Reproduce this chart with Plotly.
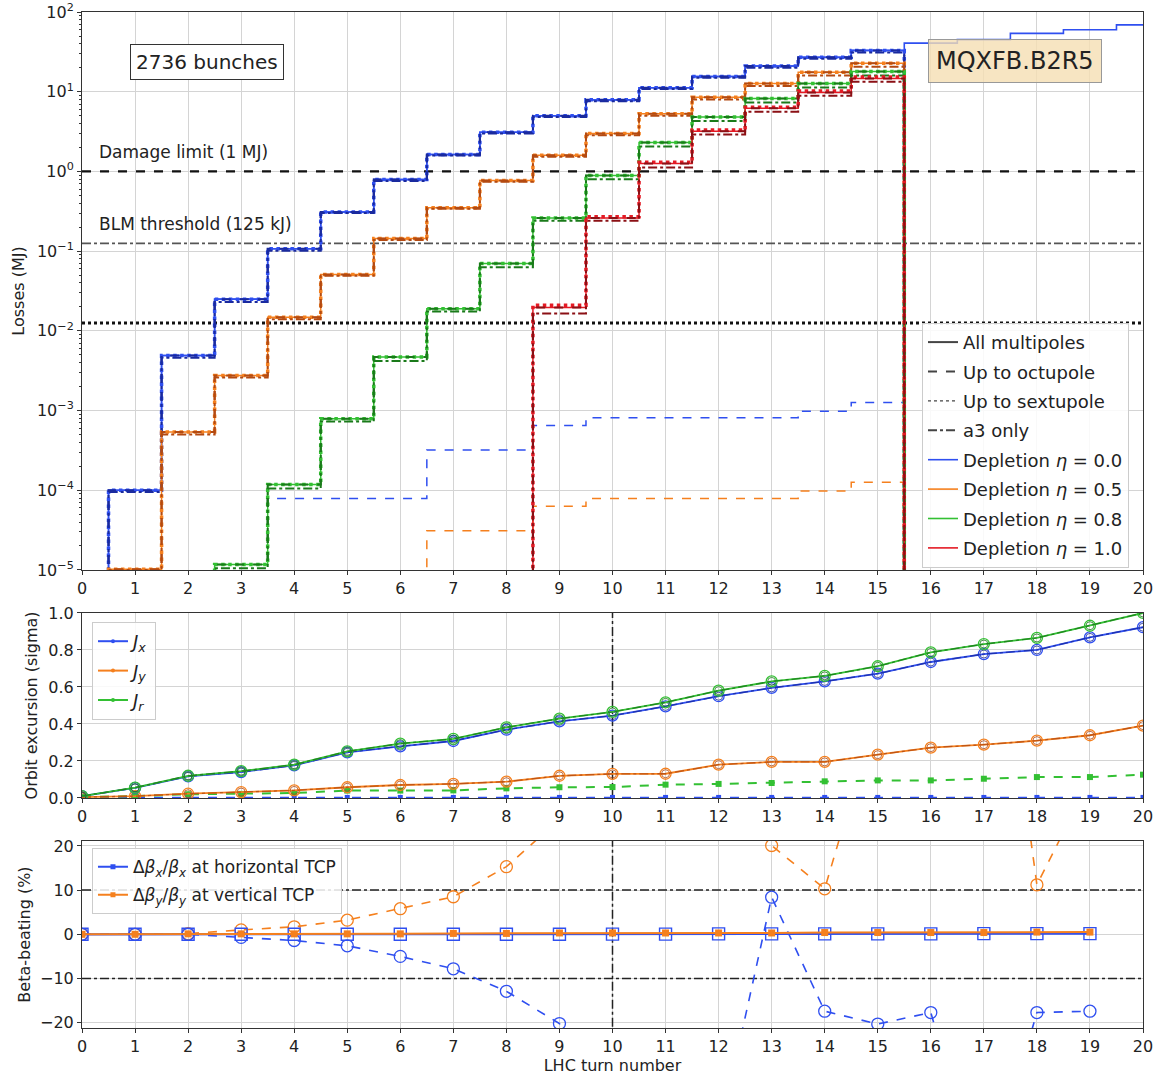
import plotly.graph_objects as go

# ---------------- data ----------------
# Top panel: losses (MJ) per LHC turn bin (turn k spans k-0.5 .. k+0.5), turns 1..15
loss_turns = list(range(1, 16))
loss_eta00 = [1.0e-4, 4.9e-3, 0.025, 0.107, 0.31, 0.79, 1.63, 3.1, 5.0, 7.9, 11.2, 15.5, 21, 27, 33]
loss_eta05 = [1.02e-5, 5.4e-4, 2.75e-3, 0.0148, 0.051, 0.144, 0.35, 0.77, 1.59, 3.0, 5.3, 8.5, 12.7, 17.5, 22.7]
loss_eta08 = [0, 0, 1.17e-5, 1.18e-4, 7.9e-4, 4.7e-3, 0.019, 0.07, 0.26, 0.89, 2.3, 4.8, 8.2, 12.7, 17.9]
loss_eta10 = [0, 0, 0, 0, 0, 0, 0, 0, 0.0196, 0.26, 1.26, 3.2, 6.2, 9.8, 14.7]
# up to sextupole (dotted)
sext_eta10 = [0, 0, 0, 0, 0, 0, 0, 0, 0.021, 0.27, 1.3, 3.3, 6.4, 10.2, 15.3]
# a3 only (dash-dot)
a3_eta00 = [0.95e-4, 4.6e-3, 0.023, 0.101, 0.30, 0.76, 1.58, 3.0, 4.8, 7.6, 10.8, 15.0, 20, 26, 31]
a3_eta05 = [1.0e-5, 5.0e-4, 2.6e-3, 0.014, 0.049, 0.138, 0.34, 0.74, 1.53, 2.85, 5.0, 8.0, 11.8, 16.0, 20.5]
a3_eta08 = [0, 0, 1.05e-5, 1.05e-4, 7.3e-4, 4.2e-3, 0.0175, 0.063, 0.24, 0.80, 2.05, 4.3, 7.3, 11.3, 16.0]
a3_eta10 = [0, 0, 0, 0, 0, 0, 0, 0, 0.0165, 0.24, 1.12, 2.9, 5.6, 8.9, 13.3]
# all multipoles, eta = 0.0, continuing after turn 15 (turns 16..20)
all_eta00_ext = [40.7, 45, 54, 60, 69]
# low thin dashed curves
low_eta00 = [0, 0, 0, 7.9e-5, 7.9e-5, 7.9e-5, 3.2e-4, 3.2e-4, 6.5e-4, 8.1e-4, 8.1e-4, 8.1e-4, 8.1e-4, 9.8e-4, 1.26e-3]
low_eta05 = [1.02e-5, 0, 0, 0, 0, 0, 3.1e-5, 3.1e-5, 6.3e-5, 7.9e-5, 7.9e-5, 7.9e-5, 7.9e-5, 9.8e-5, 1.26e-4]

damage_limit = 1.0
blm_threshold = 0.125
blm_tenth = 0.0125

loss_tick_exp = [-5, -4, -3, -2, -1, 0, 1, 2]

# Middle panel: orbit excursion (sigma), turns 0..20
orbit_turns = list(range(0, 21))
Jx = [0.01, 0.054, 0.117, 0.14, 0.176, 0.247, 0.279, 0.308, 0.369, 0.414, 0.445, 0.495, 0.55, 0.595, 0.63, 0.672, 0.735, 0.778, 0.80, 0.868, 0.923]
Jy = [0.005, 0.01, 0.023, 0.032, 0.041, 0.058, 0.07, 0.076, 0.088, 0.12, 0.13, 0.131, 0.18, 0.195, 0.195, 0.234, 0.272, 0.288, 0.31, 0.339, 0.391]
Jr = [0.01, 0.056, 0.12, 0.145, 0.18, 0.252, 0.294, 0.319, 0.382, 0.429, 0.465, 0.517, 0.58, 0.63, 0.66, 0.712, 0.787, 0.832, 0.865, 0.931, 1.0]
Jr_low = [0.005, 0.01, 0.02, 0.022, 0.027, 0.04, 0.04, 0.041, 0.052, 0.058, 0.059, 0.072, 0.076, 0.081, 0.09, 0.095, 0.095, 0.104, 0.113, 0.113, 0.126]
Jx_low = [0.003, 0.003, 0.003, 0.003, 0.003, 0.003, 0.003, 0.003, 0.003, 0.003, 0.003,
          0.003, 0.003, 0.003, 0.003, 0.003, 0.003, 0.003, 0.003, 0.003, 0.003]

# Bottom panel: beta-beating (%), turns 0..19
beat_turns = list(range(0, 20))
beat_x_all = [0, 0, 0, 0, 0, 0, 0, 0, 0, 0, 0.05, 0.05, 0.1, 0.1, 0.1, 0.1, 0.1, 0.15, 0.15, 0.15]
beat_y_all = [0, 0, 0.1, 0.1, 0.1, 0.1, 0.1, 0.2, 0.2, 0.3, 0.3, 0.3, 0.3, 0.3, 0.4, 0.4, 0.4, 0.4, 0.5, 0.5]
beat_x_dep = [0, 0, 0, -0.7, -1.4, -2.6, -5.0, -7.8, -12.9, -20.2, -60, -80, -46, 8.4, -17.4, -20.3, -17.7, -59, -17.7, -17.4]
beat_y_dep = [0, 0, 0.15, 1.0, 1.7, 3.2, 5.8, 8.5, 15.3, 26, 60, 70, 60, 20.1, 10.3, 51, 80, 100, 11.2, 35]
beat_limit = 10
ref_turn = 10

# ---------------- styling ----------------
FONT = "DejaVu Sans"
C_BLUE, C_BLUE_D = "#2f4ff0", "#1a2a9e"
C_OR, C_OR_D = "#f5801e", "#b34a12"
C_GR, C_GR_D = "#33c033", "#1a7a1a"
C_RED, C_RED_D = "#e41a24", "#8b1015"
FLOOR = 1e-9

def steps(vals, close=True):
    xs = [loss_turns[0] - 1.5] + [t - 0.5 for t in range(1, len(vals) + 1)] + [len(vals) + 0.5]
    ys = [FLOOR] + [v if v > 0 else FLOOR for v in vals] + [vals[-1]]
    if close:
        xs.append(len(vals) + 0.5)
        ys.append(FLOOR)
    return xs, ys

fig = go.Figure()

def add_step(vals, color, dash, width, close=True, opacity=1.0):
    xs, ys = steps(vals, close)
    fig.add_trace(go.Scatter(x=xs, y=ys, mode="lines", line=dict(color=color, dash=dash, width=width, shape="hv"),
                             opacity=opacity, showlegend=False, hoverinfo="skip", xaxis="x", yaxis="y"))

# reference horizontal lines (top)
for val, dash, col, w in [(damage_limit, "dash", "#111", 2.2), (blm_threshold, "dashdot", "#555", 1.8), (blm_tenth, "dot", "#111", 3)]:
    fig.add_trace(go.Scatter(x=[0, 20], y=[val, val], mode="lines", line=dict(color=col, dash=dash, width=w),
                             showlegend=False, hoverinfo="skip", xaxis="x", yaxis="y"))

# thin low dashed
add_step(low_eta00, C_BLUE, "dash", 1.5)
add_step(low_eta05, C_OR, "dash", 1.5)

# extended all-multipoles blue
add_step(loss_eta00 + all_eta00_ext, C_BLUE, "solid", 1.6, close=False)

sets = [
    (loss_eta00, loss_eta00, a3_eta00, C_BLUE, C_BLUE_D),
    (loss_eta05, loss_eta05, a3_eta05, C_OR, C_OR_D),
    (loss_eta08, loss_eta08, a3_eta08, C_GR, C_GR_D),
    (loss_eta10, sext_eta10, a3_eta10, C_RED, C_RED_D),
]
for base, sext, a3, c, cd in sets:
    add_step(base, c, "solid", 1.5)
    add_step(sext, c, "dot", 3.5)
    add_step(base, cd, "dash", 2)
    add_step(a3, cd, "dashdot", 2)

# top legend entries
gi = 0
for name, dash in [("All multipoles", "solid"), ("Up to octupole", "dash"), ("Up to sextupole", "dot"), ("a3 only", "dashdot")]:
    gi += 1
    fig.add_trace(go.Scatter(x=[None], y=[None], mode="lines", name=name, legendgroup=f"g{gi}",
                             line=dict(color="#444", dash=dash, width=2 if dash != "dot" else 1.4),
                             xaxis="x", yaxis="y", legend="legend"))
for name, c in [("Depletion <i>η</i> = 0.0", C_BLUE), ("Depletion <i>η</i> = 0.5", C_OR),
                ("Depletion <i>η</i> = 0.8", C_GR), ("Depletion <i>η</i> = 1.0", C_RED)]:
    gi += 1
    fig.add_trace(go.Scatter(x=[None], y=[None], mode="lines", name=name, legendgroup=f"g{gi}",
                             line=dict(color=c, width=1.6), xaxis="x", yaxis="y", legend="legend"))

# ---------------- middle panel ----------------
fig.add_trace(go.Scatter(x=[ref_turn, ref_turn], y=[0, 1], mode="lines", line=dict(color="#222", dash="dashdot", width=1.5),
                         showlegend=False, hoverinfo="skip", xaxis="x2", yaxis="y2"))
fig.add_trace(go.Scatter(x=orbit_turns, y=Jx_low, mode="lines+markers", line=dict(color=C_BLUE, dash="dash", width=1.5),
                         marker=dict(symbol="square", size=5, color=C_BLUE), showlegend=False, xaxis="x2", yaxis="y2"))
fig.add_trace(go.Scatter(x=orbit_turns, y=Jr_low, mode="lines+markers", line=dict(color=C_GR, dash="dash", width=2),
                         marker=dict(symbol="square", size=6, color=C_GR), showlegend=False, xaxis="x2", yaxis="y2"))
for vals, c, cd in [(Jy, C_OR, C_OR_D), (Jx, C_BLUE, C_BLUE_D), (Jr, C_GR, C_GR_D)]:
    fig.add_trace(go.Scatter(x=orbit_turns, y=vals, mode="lines+markers", line=dict(color=c, width=1.8),
                             marker=dict(symbol="circle-open", size=11, color=c, line=dict(width=1.3)),
                             showlegend=False, xaxis="x2", yaxis="y2"))
    fig.add_trace(go.Scatter(x=orbit_turns, y=vals, mode="lines+markers", line=dict(color=cd, width=1.3, dash="dashdot"),
                             marker=dict(symbol="circle-open", size=8, color=cd, line=dict(width=1)),
                             opacity=0.8, showlegend=False, xaxis="x2", yaxis="y2"))
gi = 0
for name, c in [("<i>J<sub>x</sub></i>", C_BLUE), ("<i>J<sub>y</sub></i>", C_OR), ("<i>J<sub>r</sub></i>", C_GR)]:
    gi += 1
    fig.add_trace(go.Scatter(x=[None], y=[None], mode="lines+markers", name=name, legendgroup=f"j{gi}",
                             line=dict(color=c, width=2), marker=dict(size=4, color=c),
                             xaxis="x2", yaxis="y2", legend="legend2"))

# ---------------- bottom panel ----------------
for val in [beat_limit, -beat_limit]:
    fig.add_trace(go.Scatter(x=[0, 20], y=[val, val], mode="lines", line=dict(color="#222", dash="dashdot", width=1.5),
                             showlegend=False, hoverinfo="skip", xaxis="x3", yaxis="y3"))
fig.add_trace(go.Scatter(x=[ref_turn, ref_turn], y=[-25, 25], mode="lines", line=dict(color="#222", dash="dashdot", width=1.5),
                         showlegend=False, hoverinfo="skip", xaxis="x3", yaxis="y3"))
fig.add_trace(go.Scatter(x=beat_turns, y=beat_y_dep, mode="lines+markers", line=dict(color=C_OR, dash="dash", width=1.6),
                         marker=dict(symbol="circle-open", size=12, color=C_OR, line=dict(width=1.3)),
                         cliponaxis=True, showlegend=False, xaxis="x3", yaxis="y3"))
fig.add_trace(go.Scatter(x=beat_turns, y=beat_x_dep, mode="lines+markers", line=dict(color=C_BLUE, dash="dash", width=1.6),
                         marker=dict(symbol="circle-open", size=12, color=C_BLUE, line=dict(width=1.3)),
                         cliponaxis=True, showlegend=False, xaxis="x3", yaxis="y3"))
fig.add_trace(go.Scatter(x=beat_turns, y=beat_x_all, mode="lines+markers", line=dict(color=C_BLUE, width=2.2),
                         marker=dict(symbol="square-open", size=12, color=C_BLUE, line=dict(width=1.4)),
                         showlegend=False, xaxis="x3", yaxis="y3"))
fig.add_trace(go.Scatter(x=beat_turns, y=beat_y_all, mode="lines+markers", line=dict(color=C_OR, width=2),
                         marker=dict(symbol="square", size=7, color=C_OR),
                         showlegend=False, xaxis="x3", yaxis="y3"))
gi = 0
for name, c in [("Δ<i>β<sub>x</sub></i>/<i>β<sub>x</sub></i> at horizontal TCP", C_BLUE),
                ("Δ<i>β<sub>y</sub></i>/<i>β<sub>y</sub></i> at vertical TCP", C_OR)]:
    gi += 1
    fig.add_trace(go.Scatter(x=[None], y=[None], mode="lines+markers", name=name, legendgroup=f"b{gi}",
                             line=dict(color=c, width=2), marker=dict(symbol="square", size=5, color=c),
                             xaxis="x3", yaxis="y3", legend="legend3"))

# ---------------- layout ----------------
ax_common = dict(showline=True, linecolor="#333", linewidth=1, mirror=True, ticks="outside", ticklen=4,
                 tickcolor="#333", gridcolor="#d4d4d4", gridwidth=1, zeroline=False, automargin=False,
                 tickfont=dict(size=16, color="#222", family=FONT))
xcommon = dict(ax_common, range=[0, 20], tick0=0, dtick=1)

legend_common = dict(bgcolor="rgba(255,255,255,0.85)", bordercolor="#cccccc", borderwidth=1,
                     xanchor="left", yanchor="top", itemwidth=30)

fig.update_layout(
    width=1156, height=1075,
    margin=dict(l=82, r=13, t=12, b=47),
    plot_bgcolor="white", paper_bgcolor="white",
    font=dict(family=FONT, size=16, color="#222"),
    xaxis=dict(xcommon, domain=[0, 1], anchor="y"),
    yaxis=dict(ax_common, type="log", range=[-5, 2],
               tickvals=[10 ** e for e in loss_tick_exp],
               ticktext=[f"10<sup>{str(e).replace('-', '−')}</sup>" for e in loss_tick_exp],
               domain=[0.4508, 1.0], anchor="x",
               minor=dict(ticks="outside", ticklen=2, tickcolor="#333", dtick="D1", showgrid=False),
               title=dict(text="Losses (MJ)", font=dict(size=16, color="#222"), standoff=8)),
    xaxis2=dict(xcommon, domain=[0, 1], anchor="y2"),
    yaxis2=dict(ax_common, range=[0, 1], dtick=0.2, tickformat=".1f", domain=[0.2264, 0.4085], anchor="x2",
                title=dict(text="Orbit excursion (sigma)", font=dict(size=16, color="#222"), standoff=6)),
    xaxis3=dict(xcommon, domain=[0, 1], anchor="y3",
                title=dict(text="LHC turn number", font=dict(size=16, color="#222"), standoff=4)),
    yaxis3=dict(ax_common, range=[-21.2, 21.1], tickvals=[-20, -10, 0, 10, 20], ticktext=["−20", "−10", "0", "10", "20"],
                domain=[0, 0.184], anchor="x3",
                title=dict(text="Beta-beating (%)", font=dict(size=16, color="#222"), standoff=5)),
    legend=dict(legend_common, x=0.7917, y=0.694, font=dict(size=18, color="#222", family=FONT), tracegroupgap=3),
    legend2=dict(legend_common, x=0.0094, y=0.3996, font=dict(size=18, color="#222", family=FONT), tracegroupgap=3),
    legend3=dict(legend_common, x=0.0094, y=0.177, font=dict(size=17, color="#222", family=FONT), tracegroupgap=3),
)

fig.add_annotation(text="2736 bunches", x=2.36, y=1.374, xref="x", yref="y", showarrow=False,
                   font=dict(size=20, color="#222"), bordercolor="#333", borderwidth=1, borderpad=5, bgcolor="white")
fig.add_annotation(text="MQXFB.B2R5", x=17.59, y=1.39, xref="x", yref="y", showarrow=False,
                   font=dict(size=24, color="#222"), bordercolor="#999", borderwidth=1, borderpad=7,
                   bgcolor="rgba(245,222,179,0.8)")
fig.add_annotation(text="Damage limit (1 MJ)", x=0.28, y=0.238, xref="x", yref="y", showarrow=False,
                   xanchor="left", font=dict(size=17, color="#222"))
fig.add_annotation(text="BLM threshold (125 kJ)", x=0.28, y=-0.665, xref="x", yref="y", showarrow=False,
                   xanchor="left", font=dict(size=17, color="#222"))

fig.write_html("out.html", config={"displayModeBar": False},
               post_script="document.body.style.margin='0px'; document.body.style.overflow='hidden';")
